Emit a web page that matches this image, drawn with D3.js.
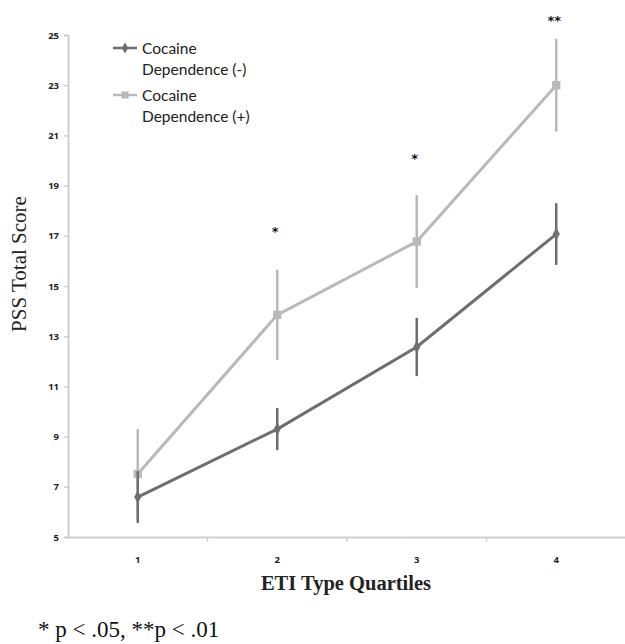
<!DOCTYPE html>
<html>
<head>
<meta charset="utf-8">
<script src="https://cdn.jsdelivr.net/npm/d3@7"></script>
<style>
  html, body { margin: 0; padding: 0; background: #fff; }
  svg { display: block; }
</style>
</head>
<body>
<script>
// ---- data ----
const categories = ["1", "2", "3", "4"];
const seriesNames = ["Cocaine Dependence (-)", "Cocaine Dependence (+)"];
const negMeans = [6.59, 9.3, 12.57, 17.07];
const negErr   = [1.03, 0.84, 1.16, 1.23];
const posMeans = [7.51, 13.85, 16.77, 23.0];
const posErr   = [1.79, 1.8, 1.85, 1.85];
const significance = ["", "*", "*", "**"];
const significanceLevel = [null, 17.0, 19.9, 25.4];
const yTicks = [5, 7, 9, 11, 13, 15, 17, 19, 21, 23, 25];

const W = 625, H = 644;
const svg = d3.select("body").append("svg").attr("width", W).attr("height", H);

const x = d3.scaleBand().domain(categories).range([68, 626]);
const y = d3.scaleLinear().domain([5, 25]).range([537, 35]);
const cx = d => x(d) + x.bandwidth() / 2;

const axisColor = "#cfcfcf";

// y axis
const yAxis = svg.append("g").attr("transform", "translate(68,0)")
  .call(d3.axisLeft(y).tickValues(yTicks).tickSize(4).tickPadding(5));
yAxis.select(".domain").attr("stroke", axisColor).attr("stroke-width", 2);
yAxis.selectAll(".tick line").attr("stroke", axisColor).attr("stroke-width", 1.5);
yAxis.selectAll(".tick text")
  .attr("font-family", "'Open Sans', sans-serif").attr("font-weight", "bold")
  .attr("font-size", 9.5).attr("fill", "#222");

// x axis
const xAxis = svg.append("g").attr("transform", "translate(0,537)")
  .call(d3.axisBottom(x).tickSize(0).tickPadding(19));
xAxis.select(".domain").attr("stroke", axisColor).attr("stroke-width", 2);
xAxis.selectAll(".tick text")
  .attr("font-family", "'Open Sans', sans-serif").attr("font-weight", "bold")
  .attr("font-size", 9.5).attr("fill", "#222");
// tick marks at band boundaries
svg.append("g").selectAll("line")
  .data(categories.slice(1))
  .join("line")
  .attr("x1", d => x(d)).attr("x2", d => x(d))
  .attr("y1", 537).attr("y2", 542)
  .attr("stroke", axisColor).attr("stroke-width", 1.5);

const series = [
  { name: seriesNames[0], means: negMeans, err: negErr, color: "#6e6e6e", marker: "diamond" },
  { name: seriesNames[1], means: posMeans, err: posErr, color: "#b9b9b9", marker: "square" }
];

const line = d3.line().x(d => cx(d.c)).y(d => y(d.v));

// draw light series first, then dark on top
[series[1], series[0]].forEach(s => {
  const pts = categories.map((c, i) => ({ c, v: s.means[i], e: s.err[i] }));
  const g = svg.append("g");
  g.selectAll("line.err").data(pts).join("line").attr("class", "err")
    .attr("x1", d => cx(d.c)).attr("x2", d => cx(d.c))
    .attr("y1", d => y(d.v - d.e)).attr("y2", d => y(d.v + d.e))
    .attr("stroke", s.color).attr("stroke-width", 2.5);
  g.append("path").datum(pts).attr("d", line)
    .attr("fill", "none").attr("stroke", s.color).attr("stroke-width", 3);
  const sym = s.marker === "square" ? d3.symbolSquare : d3.symbolDiamond;
  const size = s.marker === "square" ? 70 : 45;
  g.selectAll("path.mk").data(pts).join("path").attr("class", "mk")
    .attr("transform", d => `translate(${cx(d.c)},${y(d.v)})`)
    .attr("d", d3.symbol().type(sym).size(size))
    .attr("fill", s.color);
});

// significance stars
svg.append("g").selectAll("text")
  .data(categories.map((c, i) => ({ c, s: significance[i], lvl: significanceLevel[i] })).filter(d => d.s))
  .join("text")
  .attr("x", d => cx(d.c) - 2)
  .attr("y", d => y(d.lvl))
  .attr("text-anchor", "middle")
  .attr("font-family", "'DejaVu Sans', sans-serif").attr("font-weight", "bold")
  .attr("font-size", 13).attr("fill", "#111")
  .text(d => d.s);

// legend
const legend = svg.append("g");
series.forEach((s, i) => {
  const ly = 48 + i * 47;
  legend.append("line").attr("x1", 113).attr("x2", 137).attr("y1", ly).attr("y2", ly)
    .attr("stroke", s.color).attr("stroke-width", 2.5);
  const sym = s.marker === "square" ? d3.symbolSquare : d3.symbolDiamond;
  legend.append("path").attr("transform", `translate(125,${ly})`)
    .attr("d", d3.symbol().type(sym).size(s.marker === "square" ? 50 : 35)).attr("fill", s.color);
  const words = s.name.split(" ");
  const t = legend.append("text").attr("x", 142).attr("y", ly + 6)
    .attr("font-family", "Lato, sans-serif").attr("font-size", 15.5).attr("fill", "#222");
  t.append("tspan").attr("x", 142).text(words[0]);
  t.append("tspan").attr("x", 142).attr("dy", 20.5).text(words.slice(1).join(" "));
});

// axis titles
svg.append("text")
  .attr("transform", "translate(26,264) rotate(-90)")
  .attr("text-anchor", "middle")
  .attr("font-family", "'Liberation Serif', serif").attr("font-size", 21).attr("fill", "#222")
  .text("PSS Total Score");

svg.append("text")
  .attr("x", 346).attr("y", 590)
  .attr("text-anchor", "middle")
  .attr("font-family", "'Liberation Serif', serif").attr("font-weight", "bold")
  .attr("font-size", 20.5).attr("fill", "#222")
  .text("ETI Type Quartiles");

// footnote
svg.append("text")
  .attr("x", 38).attr("y", 637)
  .attr("font-family", "'Liberation Serif', serif").attr("font-size", 23).attr("fill", "#111")
  .text("* p < .05, **p < .01");
</script>
</body>
</html>
